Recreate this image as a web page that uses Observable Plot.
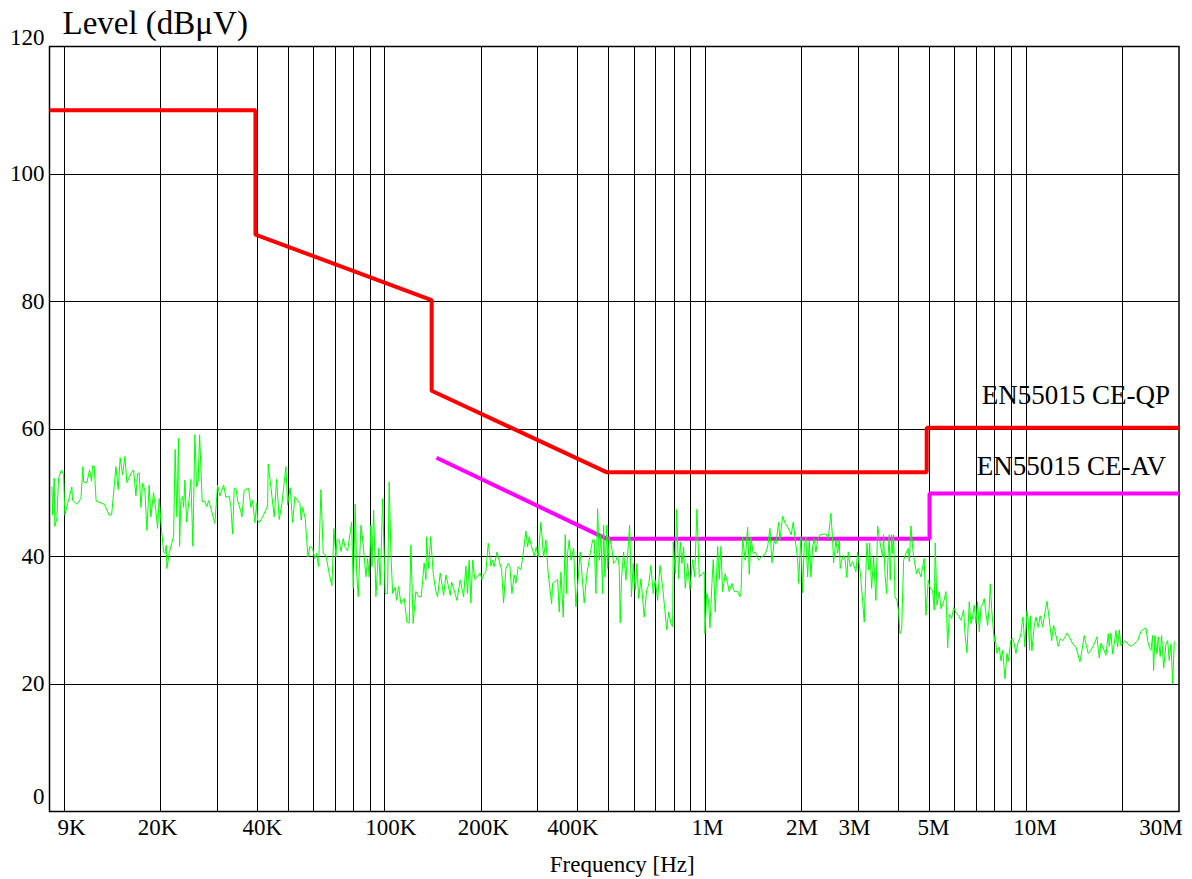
<!DOCTYPE html>
<html><head><meta charset="utf-8">
<script src="https://cdn.jsdelivr.net/npm/d3@7"></script>
<script src="https://cdn.jsdelivr.net/npm/@observablehq/plot@0.6"></script>
<style>html,body{margin:0;padding:0;background:#fff;overflow:hidden}</style>
</head><body><div id="chart"></div>
<script>
// Measured scan (green trace): frequency in kHz and level in dBµV
const scanKHz = [
9.16,9.20,9.31,9.35,9.49,9.61,9.81,9.96,10.05,10.25,
10.57,10.62,10.96,11.28,11.44,11.50,11.77,11.88,12.00,12.11,
12.17,12.26,12.40,12.58,13.33,13.82,14.06,14.50,14.74,14.95,
15.21,15.47,15.69,16.15,16.46,16.74,16.94,17.14,17.35,17.56,
17.85,18.11,18.41,18.64,19.00,19.32,19.56,19.78,20.13,20.42,
20.61,20.81,20.91,21.26,21.63,21.94,22.19,22.47,22.74,22.91,
23.12,23.41,23.58,23.80,24.09,24.54,24.85,25.20,25.57,25.88,
26.18,26.45,26.95,27.47,27.87,28.21,28.69,29.52,30.10,30.60,
31.43,31.94,32.71,33.12,33.52,33.91,34.33,34.75,35.59,35.84,
36.43,37.60,38.23,38.70,39.34,39.83,40.11,40.58,41.58,43.10,
43.29,44.14,45.20,45.98,46.85,47.77,49.16,49.76,50.70,51.58,
52.44,53.47,54.36,54.87,55.42,56.47,57.58,58.41,59.55,60.41,
61.29,62.17,63.22,64.26,65.52,67.09,68.41,69.39,70.40,70.91,
72.09,72.98,74.19,75.26,76.57,78.81,79.72,80.87,81.69,82.64,
84.26,85.66,87.33,88.40,89.43,90.53,91.19,92.30,93.83,95.67,
96.78,98.46,100.3,102.0,103.2,104.5,105.8,107.8,108.8,110.4,
112.3,115.0,117.2,119.2,120.6,122.6,125.0,127.5,129.9,132.7,
134.4,135.0,137.0,139.0,141.6,144.4,146.1,148.9,152.6,155.1,
157.7,160.0,161.6,164.6,167.9,171.9,176.1,179.0,181.2,183.3,
185.6,187.9,191.0,194.7,198.4,200.9,204.2,206.7,210.2,214.3,
216.9,219.4,223.7,231.4,234.7,238.6,242.6,245.6,249.2,253.3,
256.4,260.7,265.8,269.7,275.5,278.9,282.1,287.1,292.5,296.7,
301.0,306.9,312.9,318.1,323.4,331.4,333.8,346.0,350.0,354.3,
360.2,365.4,369.1,371.7,376.0,380.7,388.1,394.6,407.0,418.8,
427.0,437.3,444.9,450.0,455.5,461.1,466.5,472.2,478.0,481.5,
486.0,493.0,495.5,501.2,510.0,517.3,525.9,532.4,538.5,542.4,
547.9,555.9,565.1,580.3,587.9,595.5,604.1,611.6,619.1,629.4,
644.5,655.7,665.2,676.2,687.4,697.5,709.6,721.4,735.6,749.4,
757.0,768.0,780.7,790.4,793.7,805.3,813.4,825.2,834.7,845.0,
855.3,865.2,880.2,894.9,912.5,925.6,941.0,956.7,975.5,991.7,
996.4,1009,1023,1033,1048,1058,1073,1092,1104,1118,
1131,1153,1173,1186,1210,1230,1260,1281,1291,1306,
1331,1354,1370,1387,1410,1430,1466,1490,1526,1544,
1563,1590,1612,1639,1660,1692,1708,1741,1774,1805,
1835,1852,1879,1906,1939,1953,1986,2010,2033,2058,
2084,2108,2134,2160,2185,2211,2239,2276,2321,2376,
2416,2463,2493,2511,2553,2585,2615,2633,2660,2699,
2724,2763,2789,2830,2879,2912,2948,2984,3040,3093,
3129,3167,3190,3229,3253,3299,3347,3403,3445,3485,
3528,3571,3597,3631,3675,3717,3744,3771,3810,3837,
3865,3901,3957,4006,4044,4093,4152,4221,4292,4323,
4376,4430,4481,4559,4611,4702,4760,4814,4874,4955,
5027,5114,5173,5210,5274,5362,5429,5535,5627,5696,
5762,5862,5947,6046,6146,6267,6390,6450,6542,6652,
6734,6816,6895,6980,7065,7147,7236,7324,7408,7500,
7591,7680,7735,7813,7960,8001,8116,8252,8354,8456,
8597,8720,8802,8976,9085,9190,9303,9417,9594,9640,
9780,9921,10065,10160,10260,10310,10430,10610,10740,10920,
11070,11270,11400,11620,11810,12020,12190,12400,12600,12790,
13010,13160,13420,13640,13980,14310,14730,14910,15190,15380,
15630,15940,16320,16640,16920,17130,17540,17760,18050,18180,
18400,18630,18840,19070,19310,19530,19770,20010,20350,20750,
21250,21750,22290,22830,23270,23660,23950,24230,24530,24830,
25000,25240,25610,25850,26220,26480,26870,27320,27650,27970,
28320,28670,29000,29140
];
const scanDb = [
50.9,46.5,52.3,44.7,46.0,52.3,53.6,52.8,46.5,48.3,
50.9,48.8,48.2,49.1,54.1,51.7,51.6,52.5,53.6,52.5,
51.8,54.2,54.2,48.7,48.2,46.5,46.5,54.1,50.5,55.5,
52.8,55.7,51.6,53.0,53.6,49.5,53.0,53.1,47.7,51.5,
50.4,44.1,51.2,46.2,50.0,47.2,44.4,49.1,44.1,40.7,
40.5,41.8,38.1,40.5,42.0,43.1,56.8,46.2,58.5,41.6,
48.8,49.4,47.7,52.0,45.4,49.1,52.1,41.6,59.1,50.9,
51.8,59.1,48.6,48.6,47.8,48.8,47.5,45.2,51.2,49.5,
51.2,49.3,49.5,47.8,43.5,50.7,50.7,48.8,47.0,46.2,
50.4,50.7,47.7,48.8,45.3,48.4,45.7,45.3,46.2,47.9,
54.5,50.9,46.2,52.1,45.8,48.3,54.1,48.1,50.8,45.3,
49.4,48.8,48.3,45.7,47.7,46.0,39.9,41.6,41.3,39.7,
40.5,38.4,50.5,40.5,40.2,37.3,35.4,44.4,39.9,42.6,
42.6,40.8,42.8,41.4,40.9,45.4,35.0,48.2,37.6,33.7,
44.9,41.8,36.8,39.7,36.8,44.9,38.4,47.3,33.7,41.3,
35.5,49.1,34.2,34.2,51.7,40.5,34.2,35.2,33.1,35.3,
32.6,33.4,29.7,29.6,41.8,29.5,34.5,33.7,33.7,39.0,
36.4,43.1,38.1,43.1,37.3,34.5,33.7,37.4,33.9,37.1,
35.5,33.9,36.0,34.7,33.1,36.3,33.7,38.5,34.2,39.4,
32.7,39.4,36.4,36.8,37.4,36.4,37.3,37.6,42.1,38.5,
39.4,38.4,40.7,37.9,32.7,38.1,38.9,38.4,34.2,37.1,
35.8,38.4,37.9,40.2,44.0,41.5,43.1,41.5,40.1,41.5,
39.9,45.4,39.9,42.6,37.3,32.6,35.8,36.4,31.3,37.6,
30.5,43.4,34.2,40.5,42.6,39.4,41.3,32.1,40.7,32.7,
37.3,40.5,42.6,42.6,34.2,47.5,39.4,43.4,34.2,44.9,
36.8,44.9,38.1,43.1,41.5,38.9,39.4,40.1,38.4,29.6,
36.8,40.7,36.3,44.9,33.7,38.9,34.7,38.9,33.4,36.5,
30.5,34.7,35.5,38.6,34.2,36.3,33.1,38.6,35.2,31.0,
28.5,31.3,29.5,29.0,42.3,37.3,47.4,36.5,42.3,38.9,
41.5,35.0,38.9,34.8,39.5,36.8,47.4,36.8,37.3,37.6,
27.9,34.2,33.1,28.8,35.8,39.5,31.3,41.6,36.4,41.6,
34.5,37.3,35.8,34.5,35.8,34.5,34.5,33.7,34.2,43.0,
39.4,44.6,37.2,43.0,40.4,40.7,39.4,39.9,40.2,40.7,
41.5,44.4,39.0,42.5,42.0,45.4,42.6,46.3,45.2,44.6,
43.9,43.4,45.4,42.6,39.7,35.8,43.1,34.3,41.5,43.1,
36.8,42.6,36.8,41.5,42.8,40.7,42.6,43.4,43.5,43.5,
42.8,46.8,42.6,39.0,42.6,40.5,42.6,38.1,39.4,40.2,
39.7,36.7,40.7,38.4,39.2,38.4,37.6,40.7,37.6,33.1,
29.7,37.9,42.1,37.9,42.1,35.0,39.9,33.1,44.8,43.1,
41.3,39.9,43.4,37.3,34.2,40.5,43.4,36.3,43.4,40.5,
43.4,33.7,33.1,31.3,27.9,28.5,39.4,40.5,41.3,39.2,
44.8,41.3,39.4,37.3,38.1,36.8,38.4,39.7,30.8,36.3,
35.0,34.7,31.6,42.1,32.4,34.5,31.8,32.9,34.5,25.7,
31.0,30.3,32.0,31.2,30.8,30.0,31.6,27.9,24.9,32.9,
29.5,30.5,32.4,29.5,32.9,28.2,32.1,32.5,33.4,31.0,
29.2,32.1,35.7,31.8,26.6,27.6,24.8,25.8,23.6,25.3,
20.8,24.8,23.6,26.9,27.1,26.3,24.8,26.3,27.4,27.9,
30.5,25.8,31.5,29.9,25.3,30.7,25.2,29.2,30.5,28.9,
30.7,28.9,30.5,33.0,30.2,26.8,29.2,27.6,25.9,27.1,
26.8,27.1,28.0,27.4,26.3,25.8,23.5,25.0,27.6,26.3,
24.8,25.3,26.3,27.4,24.1,26.4,25.2,24.5,27.9,25.9,
28.0,24.7,26.3,28.4,25.8,28.5,26.0,26.4,26.8,26.3,
25.9,26.3,26.8,28.3,28.6,28.8,26.8,25.8,25.3,27.6,
22.1,27.6,24.7,27.4,24.3,27.6,22.5,26.3,26.8,23.7,
26.3,20.0,26.5,26.7
];

// EN55015 limit lines
const qpHz = [9000, 39500, 39500, 140000, 140000, 493000, 4900000, 4900000, 30000000];
const qpDb = [110, 110, 90.5, 80.2, 66.0, 53.2, 53.2, 60.2, 60.2];
const avHz = [145000, 490000, 5000000, 5000000, 30000000];
const avDb = [55.5, 42.8, 42.8, 49.9, 49.9];

// Grid and ticks
const xGridHz = [1e4,2e4,3e4,4e4,5e4,6e4,7e4,8e4,9e4,
                 1e5,2e5,3e5,4e5,5e5,6e5,7e5,8e5,9e5,
                 1e6,2e6,3e6,4e6,5e6,6e6,7e6,8e6,9e6,
                 1e7,2e7];
const yGridDb = [20, 40, 60, 80, 100];
const xTickHz = [9e3, 2e4, 4e4, 1e5, 2e5, 4e5, 1e6, 2e6, 3e6, 5e6, 1e7, 3e7];
const xTickText = ["9K","20K","40K","100K","200K","400K","1M","2M","3M","5M","10M","30M"];
const yTickDb = [0, 20, 40, 60, 80, 100, 120];

const seriesNames = ["EN55015 CE-QP", "EN55015 CE-AV"];
const titleText = "Level (dBμV)";
const xLabelText = "Frequency [Hz]";

// label nudges (style only)
const xTickDx = [22, -3, 5, 6, 2, -5, 2, 0, -4, 4, 9, -18];

const scan = scanKHz.map((f, i) => ({hz: f * 1000, db: scanDb[i]}));
const qp = qpHz.map((f, i) => ({hz: f, db: qpDb[i]}));
const av = avHz.map((f, i) => ({hz: f, db: avDb[i]}));

const FONT = "Liberation Serif";
const tickFont = 23;

const xLabels = xTickHz.map((v, i) => Plot.text([v], {
  x: d => d, text: () => xTickText[i], frameAnchor: "bottom", lineAnchor: "middle",
  textAnchor: "middle", dx: xTickDx[i], dy: 16, fontSize: tickFont, fontFamily: FONT, fill: "black"
}));
const yMid = yTickDb.filter(d => d > 0 && d < 120);
const yLabel = (vals, dy) => Plot.text(vals, {
  y: d => d, text: d => String(d), frameAnchor: "left", textAnchor: "end", lineAnchor: "middle",
  dx: -5, dy, fontSize: tickFont, fontFamily: FONT, fill: "black"
});

const chart = Plot.plot({
  width: 1192, height: 879,
  marginLeft: 49, marginRight: 13.5, marginTop: 46, marginBottom: 68,
  x: {type: "log", domain: [9000, 30000000], axis: null},
  y: {domain: [0, 120], axis: null},
  style: {fontFamily: FONT, fontSize: tickFont + "px", color: "black", background: "white"},
  marks: [
    Plot.ruleX(xGridHz, {stroke: "black", strokeWidth: 1, strokeOpacity: 1, shapeRendering: "crispEdges"}),
    Plot.ruleY(yGridDb, {stroke: "black", strokeWidth: 1, strokeOpacity: 1, shapeRendering: "crispEdges"}),
    Plot.frame({stroke: "black", strokeWidth: 1.5}),
    Plot.line(qp, {x: "hz", y: "db", stroke: "#ff0000", strokeWidth: 4, strokeLinejoin: "miter", strokeLinecap: "butt"}),
    Plot.line(av, {x: "hz", y: "db", stroke: "#ff00ff", strokeWidth: 4, strokeLinejoin: "miter", strokeLinecap: "butt"}),
    Plot.line(scan, {x: "hz", y: "db", stroke: "#00ff00", strokeWidth: 1}),
    ...xLabels,
    yLabel(yMid, 0),
    yLabel([yTickDb[0]], -15),
    yLabel([yTickDb[yTickDb.length - 1]], -9),
    Plot.text([titleText], {text: d => d, frameAnchor: "top-left", textAnchor: "start", lineAnchor: "middle", dx: 13, dy: -23, fontSize: 33, fontFamily: FONT, fill: "black"}),
    Plot.text([xLabelText], {text: d => d, frameAnchor: "bottom", textAnchor: "middle", lineAnchor: "middle", dx: 8, dy: 53, fontSize: 23, fontFamily: FONT, fill: "black"}),
    Plot.text([seriesNames[0]], {text: d => d, frameAnchor: "top-right", textAnchor: "end", lineAnchor: "middle", dx: -9, dy: 349, fontSize: 27, fontFamily: FONT, fill: "black"}),
    Plot.text([seriesNames[1]], {text: d => d, frameAnchor: "top-right", textAnchor: "end", lineAnchor: "middle", dx: -13, dy: 420, fontSize: 27, fontFamily: FONT, fill: "black"})
  ]
});
document.getElementById("chart").append(chart);
if (scanKHz.length !== scanDb.length) console.error("length mismatch", scanKHz.length, scanDb.length);
</script></body></html>
